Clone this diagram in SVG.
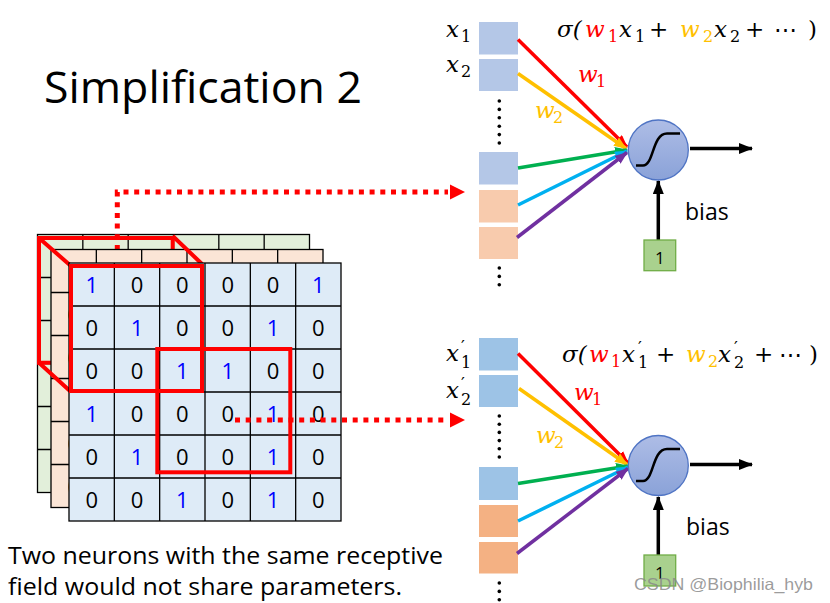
<svg xmlns="http://www.w3.org/2000/svg" xmlns:xlink="http://www.w3.org/1999/xlink" width="830" height="603" viewBox="0 0 830 603">
<style>
.gl{fill:none;stroke:#000;stroke-width:1.3}
.d1{fill:#0000ff}
.d0{fill:#000}
.dig{font-family:"Open Sans","Liberation Sans",sans-serif;font-size:22px;text-anchor:middle}
.red{fill:none;stroke:#ff0000;stroke-width:4;stroke-linejoin:miter}
.dot{fill:none;stroke:#ff0000;stroke-width:5;stroke-dasharray:5 5.7}
.m{font-family:"DejaVu Serif","Liberation Serif",serif;font-style:italic;font-size:23px;fill:#000}
.s{font-size:16px;font-style:normal}
.up{font-style:normal}
.pr{font-style:normal;font-size:17px}
.lbl{font-family:"Open Sans","Liberation Sans",sans-serif;fill:#000}
.vd{fill:#000}
.blk{stroke:#000;stroke-width:3.5;fill:none}
</style>
<defs>
<g id="lines">
<rect x="0" y="0" width="272" height="258" class="gl"/>
<path class="gl" d="M45.33,0V258M90.67,0V258M136,0V258M181.33,0V258M226.67,0V258M0,43H272M0,86H272M0,129H272M0,172H272M0,215H272"/>
</g>
<g id="digits" class="dig">
<text x="22.7" y="30" class="d1">1</text><text x="68" y="30" class="d0">0</text><text x="113.3" y="30" class="d0">0</text><text x="158.7" y="30" class="d0">0</text><text x="204" y="30" class="d0">0</text><text x="249.3" y="30" class="d1">1</text>
<text x="22.7" y="73" class="d0">0</text><text x="68" y="73" class="d1">1</text><text x="113.3" y="73" class="d0">0</text><text x="158.7" y="73" class="d0">0</text><text x="204" y="73" class="d1">1</text><text x="249.3" y="73" class="d0">0</text>
<text x="22.7" y="116" class="d0">0</text><text x="68" y="116" class="d0">0</text><text x="113.3" y="116" class="d1">1</text><text x="158.7" y="116" class="d1">1</text><text x="204" y="116" class="d0">0</text><text x="249.3" y="116" class="d0">0</text>
<text x="22.7" y="159" class="d1">1</text><text x="68" y="159" class="d0">0</text><text x="113.3" y="159" class="d0">0</text><text x="158.7" y="159" class="d0">0</text><text x="204" y="159" class="d1">1</text><text x="249.3" y="159" class="d0">0</text>
<text x="22.7" y="202" class="d0">0</text><text x="68" y="202" class="d1">1</text><text x="113.3" y="202" class="d0">0</text><text x="158.7" y="202" class="d0">0</text><text x="204" y="202" class="d1">1</text><text x="249.3" y="202" class="d0">0</text>
<text x="22.7" y="245" class="d0">0</text><text x="68" y="245" class="d0">0</text><text x="113.3" y="245" class="d1">1</text><text x="158.7" y="245" class="d0">0</text><text x="204" y="245" class="d1">1</text><text x="249.3" y="245" class="d0">0</text>
</g>
<linearGradient id="neu" x1="0" y1="0" x2="0" y2="1">
<stop offset="0" stop-color="#aebde6"/>
<stop offset="1" stop-color="#8aa2d8"/>
</linearGradient>
<marker id="aR" markerUnits="userSpaceOnUse" markerWidth="13" markerHeight="10" refX="12" refY="5" orient="auto"><path d="M0,0L13,5L0,10z" fill="#ff0000"/></marker>
<marker id="aY" markerUnits="userSpaceOnUse" markerWidth="13" markerHeight="10" refX="12" refY="5" orient="auto"><path d="M0,0L13,5L0,10z" fill="#ffc000"/></marker>
<marker id="aG" markerUnits="userSpaceOnUse" markerWidth="13" markerHeight="10" refX="12" refY="5" orient="auto"><path d="M0,0L13,5L0,10z" fill="#00b050"/></marker>
<marker id="aC" markerUnits="userSpaceOnUse" markerWidth="13" markerHeight="10" refX="12" refY="5" orient="auto"><path d="M0,0L13,5L0,10z" fill="#00b0f0"/></marker>
<marker id="aP" markerUnits="userSpaceOnUse" markerWidth="13" markerHeight="10" refX="12" refY="5" orient="auto"><path d="M0,0L13,5L0,10z" fill="#7030a0"/></marker>
<marker id="aK" markerUnits="userSpaceOnUse" markerWidth="14" markerHeight="11" refX="13" refY="5.5" orient="auto"><path d="M0,0L14,5.5L0,11z" fill="#000"/></marker>
</defs>
<rect width="830" height="603" fill="#fff"/>

<text id="title" x="44" y="103" class="lbl" font-size="44" textLength="318" lengthAdjust="spacingAndGlyphs">Simplification 2</text>

<g id="input-grid">
<g id="layer-green">
<rect x="37.5" y="234.5" width="272" height="258" fill="#e2efda"/>
<use xlink:href="#digits" transform="translate(37.5,234.5)"/>
<use xlink:href="#lines" transform="translate(37.5,234.5)"/>
</g>
<path class="dot" d="M117.3,250V192H448"/>
<polygon points="450,184.5 465,192 450,199.5" fill="#ff0000"/>
<polyline class="red" points="172.7,255 172.7,238 39,238 39,362.7 60,362.7"/>
<g id="layer-peach">
<rect x="51" y="249.5" width="272" height="258" fill="#fbe5d6"/>
<use xlink:href="#digits" transform="translate(51,249.5)"/>
<use xlink:href="#lines" transform="translate(51,249.5)"/>
</g>
<path class="red" d="M39,238L71,266M172.7,236L202,264M39,362.7L70,391"/>
<g id="layer-blue">
<rect x="69" y="263" width="272" height="258" fill="#deebf7"/>
<use xlink:href="#digits" transform="translate(69,263)"/>
<use xlink:href="#lines" transform="translate(69,263)"/>
</g>
<rect class="red" x="71" y="266" width="131" height="125"/>
<rect class="red" x="157.3" y="349" width="133" height="123.3"/>
</g>

<g id="neuron1-inputs">
<rect x="479" y="22" width="39" height="32.5" fill="#b4c7e7"/>
<rect x="479" y="59" width="39" height="32" fill="#b4c7e7"/>
<rect x="479" y="152" width="39" height="32.5" fill="#b4c7e7"/>
<rect x="479" y="190" width="39" height="32.5" fill="#f8cbad"/>
<rect x="479" y="227" width="39" height="32" fill="#f8cbad"/>
<g class="vd"><circle cx="499.3" cy="101" r="1.8"/><circle cx="499.3" cy="109.4" r="1.8"/><circle cx="499.3" cy="117.8" r="1.8"/><circle cx="499.3" cy="126.2" r="1.8"/><circle cx="499.3" cy="134.6" r="1.8"/><circle cx="499.3" cy="143" r="1.8"/>
<circle cx="499.3" cy="268" r="1.8"/><circle cx="499.3" cy="276.4" r="1.8"/><circle cx="499.3" cy="284.8" r="1.8"/></g>
<text class="m" x="446" y="37">x<tspan class="s" x="461" y="42">1</tspan></text>
<text class="m" x="446" y="72">x<tspan class="s" x="461" y="77">2</tspan></text>
</g>

<g id="neuron2-inputs">
<rect x="479" y="338" width="39" height="32.5" fill="#9dc3e6"/>
<rect x="479" y="375" width="39" height="32" fill="#9dc3e6"/>
<rect x="479" y="467" width="39" height="33" fill="#9dc3e6"/>
<rect x="479" y="505" width="39" height="32" fill="#f4b183"/>
<rect x="479" y="542" width="39" height="31.5" fill="#f4b183"/>
<g class="vd"><circle cx="499.3" cy="416" r="1.8"/><circle cx="499.3" cy="424.2" r="1.8"/><circle cx="499.3" cy="432.4" r="1.8"/><circle cx="499.3" cy="440.6" r="1.8"/><circle cx="499.3" cy="448.8" r="1.8"/><circle cx="499.3" cy="457" r="1.8"/>
<circle cx="499.3" cy="583" r="1.8"/><circle cx="499.3" cy="591.4" r="1.8"/><circle cx="499.3" cy="599.8" r="1.8"/></g>
<text class="m" x="446" y="361">x<tspan class="pr" x="461" y="352">′</tspan><tspan class="s" x="461" y="368">1</tspan></text>
<text class="m" x="446" y="398">x<tspan class="pr" x="461" y="389">′</tspan><tspan class="s" x="461" y="405">2</tspan></text>
</g>

<g id="connectors">
<line x1="518" y1="39.5" x2="627" y2="147" stroke="#ff0000" stroke-width="3.5" marker-end="url(#aR)"/>
<line x1="518" y1="73.5" x2="626" y2="148.5" stroke="#ffc000" stroke-width="3.5" marker-end="url(#aY)"/>
<line x1="518" y1="168" x2="627" y2="150" stroke="#00b050" stroke-width="3.5" marker-end="url(#aG)"/>
<line x1="518" y1="205" x2="627" y2="151" stroke="#00b0f0" stroke-width="3.5" marker-end="url(#aC)"/>
<line x1="517" y1="237.5" x2="627" y2="152.5" stroke="#7030a0" stroke-width="3.5" marker-end="url(#aP)"/>
<line x1="690" y1="148.5" x2="752" y2="148.5" class="blk" marker-end="url(#aK)"/>
<line x1="658.3" y1="240" x2="658.3" y2="181" class="blk" marker-end="url(#aK)"/>

<line x1="518" y1="353.5" x2="628" y2="463" stroke="#ff0000" stroke-width="3.5" marker-end="url(#aR)"/>
<line x1="519" y1="388.5" x2="627" y2="464.5" stroke="#ffc000" stroke-width="3.5" marker-end="url(#aY)"/>
<line x1="518" y1="483.5" x2="628" y2="466" stroke="#00b050" stroke-width="3.5" marker-end="url(#aG)"/>
<line x1="518" y1="521" x2="628" y2="467" stroke="#00b0f0" stroke-width="3.5" marker-end="url(#aC)"/>
<line x1="517" y1="553.5" x2="628" y2="468.5" stroke="#7030a0" stroke-width="3.5" marker-end="url(#aP)"/>
<line x1="690" y1="464.5" x2="752" y2="464.5" class="blk" marker-end="url(#aK)"/>
<line x1="658.3" y1="555" x2="658.3" y2="497" class="blk" marker-end="url(#aK)"/>

<path class="dot" d="M235,420H448"/>
<polygon points="450,412.5 465,420 450,427.5" fill="#ff0000"/>
</g>

<g id="neuron1">
<circle cx="658.3" cy="150" r="30" fill="url(#neu)" stroke="#4f74c4" stroke-width="1.3"/>
<path d="M636,165.5H643C654,165.5 652,133.5 667,133.5H680" fill="none" stroke="#000" stroke-width="2.5"/>
<text class="m" x="578" y="82" style="fill:#ff0000">w<tspan class="s" x="596" y="87">1</tspan></text>
<text class="m" x="535" y="118" style="fill:#ffc000">w<tspan class="s" x="553" y="123">2</tspan></text>
<text class="m" y="37"><tspan x="557">σ(</tspan><tspan x="585" style="fill:#ff0000">w</tspan><tspan class="s" x="608" y="42" style="fill:#ff0000">1</tspan><tspan x="619" y="37">x</tspan><tspan class="s" x="635" y="42">1</tspan><tspan class="up" x="649" y="37">+</tspan><tspan x="680" style="fill:#ffc000">w</tspan><tspan class="s" x="703" y="42" style="fill:#ffc000">2</tspan><tspan x="714" y="37">x</tspan><tspan class="s" x="730" y="42">2</tspan><tspan class="up" x="745" y="37">+</tspan><tspan class="up" x="774">⋯</tspan><tspan class="up" x="808">)</tspan></text>
</g>
<g id="bias1">
<rect x="644" y="240" width="31.7" height="30.7" fill="#a9d18e" stroke="#70ad47" stroke-width="1.3"/>
<text x="659.8" y="263.5" class="lbl" font-size="17" text-anchor="middle">1</text>
<text x="685" y="220" class="lbl" font-size="23">bias</text>
</g>

<g id="neuron2">
<circle cx="658.3" cy="465.5" r="30" fill="url(#neu)" stroke="#4f74c4" stroke-width="1.3"/>
<path d="M636,481H643C654,481 652,449 667,449H680" fill="none" stroke="#000" stroke-width="2.5"/>
<text class="m" x="574" y="400" style="fill:#ff0000">w<tspan class="s" x="592" y="405">1</tspan></text>
<text class="m" x="536" y="443" style="fill:#ffc000">w<tspan class="s" x="554" y="448">2</tspan></text>
<text class="m" y="362"><tspan x="562">σ(</tspan><tspan x="589" style="fill:#ff0000">w</tspan><tspan class="s" x="611" y="367" style="fill:#ff0000">1</tspan><tspan x="622" y="362">x</tspan><tspan class="pr" x="638" y="353">′</tspan><tspan class="s" x="638" y="368">1</tspan><tspan class="up" x="656" y="362">+</tspan><tspan x="686" style="fill:#ffc000">w</tspan><tspan class="s" x="708" y="367" style="fill:#ffc000">2</tspan><tspan x="718" y="362">x</tspan><tspan class="pr" x="734" y="353">′</tspan><tspan class="s" x="734" y="368">2</tspan><tspan class="up" x="754" y="362">+</tspan><tspan class="up" x="779">⋯</tspan><tspan class="up" x="809">)</tspan></text>
</g>
<g id="bias2">
<rect x="644" y="555" width="31.7" height="31" fill="#a9d18e" stroke="#70ad47" stroke-width="1.3"/>
<text x="659.8" y="578.5" class="lbl" font-size="17" text-anchor="middle">1</text>
<text x="686" y="535" class="lbl" font-size="23">bias</text>
</g>

<g id="caption">
<text x="8" y="564" class="lbl" font-size="24" textLength="435" lengthAdjust="spacingAndGlyphs">Two neurons with the same receptive</text>
<text x="8" y="595" class="lbl" font-size="24" textLength="394" lengthAdjust="spacingAndGlyphs">field would not share parameters.</text>
</g>
<text id="watermark" x="634" y="590" font-family="Liberation Sans, Arial, sans-serif" font-size="16.5" fill="#8a8a8a" fill-opacity="0.85" textLength="179" lengthAdjust="spacingAndGlyphs">CSDN @Biophilia_hyb</text>
</svg>
